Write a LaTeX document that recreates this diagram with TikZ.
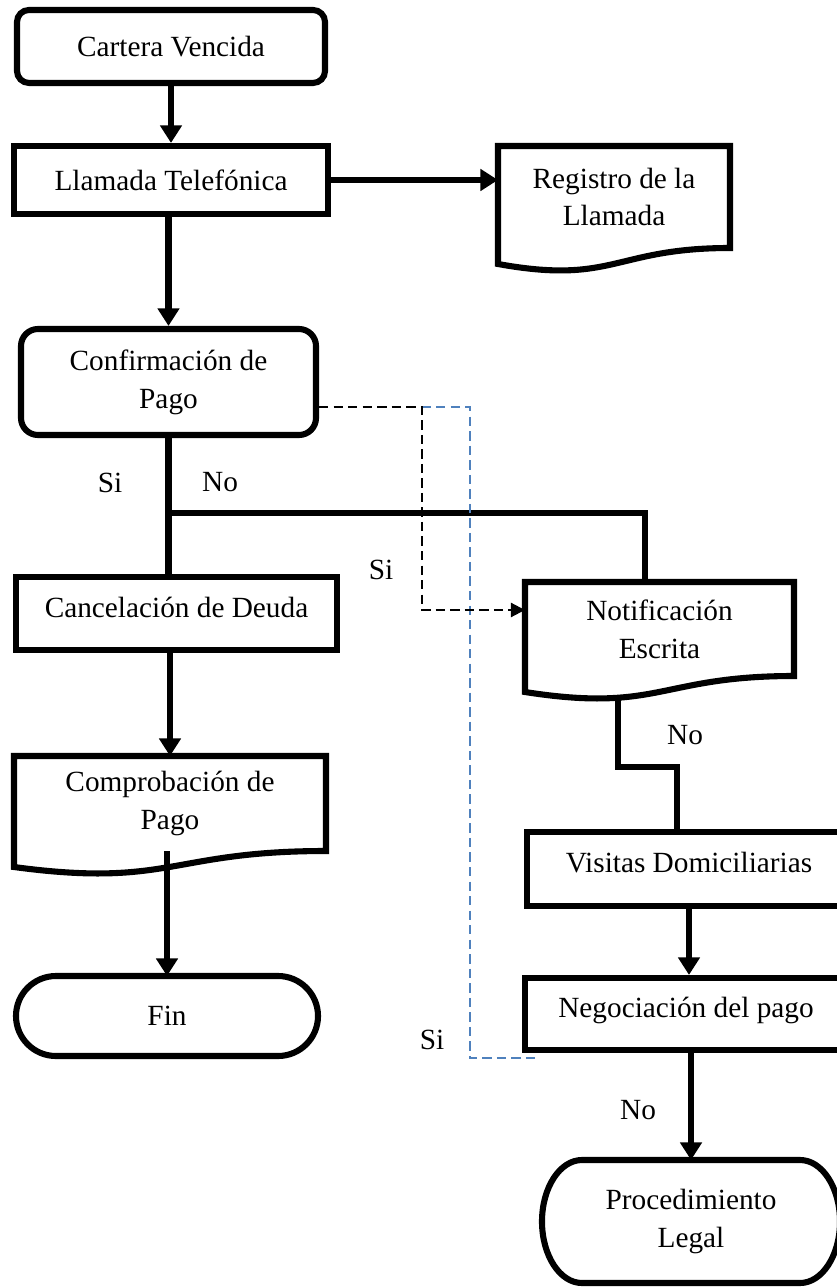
\documentclass[tikz,border=0pt]{standalone}
\usepackage{fontspec}
\setmainfont{Liberation Serif}
\usetikzlibrary{arrows.meta}

% document symbol: box with wavy bottom
\newcommand{\docwave}[1]{%
  \draw[line width=2.6pt] (#1.north west) -- (#1.north east) -- (#1.south east)
    .. controls (#1.south) and ([yshift=-0.555cm]#1.south) .. ([yshift=-0.24cm]#1.south west) -- cycle;}
% terminal symbol: box with elliptic ends
\newcommand{\termpath}[3]{%
  \draw[line width=2.6pt] ([xshift=#2]#1.north west) -- ([xshift=-#2]#1.north east)
    arc[start angle=90, end angle=0, x radius=#2, y radius=#3]
    -- ([yshift=#3]#1.south east)
    arc[start angle=0, end angle=-90, x radius=#2, y radius=#3]
    -- ([xshift=#2]#1.south west)
    arc[start angle=270, end angle=180, x radius=#2, y radius=#3]
    -- ([yshift=-#3]#1.north west)
    arc[start angle=180, end angle=90, x radius=#2, y radius=#3] -- cycle;}

\begin{document}
\begin{tikzpicture}[x=0.015cm, y=-0.015cm,
    font=\fontsize{12.5}{16.2}\selectfont,
    box/.style={draw, line width=2.6pt, align=center, inner sep=2pt},
    highbox/.style={box, text depth=0.2cm},
    roundbox/.style={box, rounded corners=0.18cm},
    docbox/.style={align=center, inner sep=0pt, outer sep=0pt},
    termbox/.style={align=center, inner sep=0pt, outer sep=0pt},
    line/.style={line width=2.6pt},
    arrow/.style={line, -{Triangle[width=9pt, length=7.5pt]}},
    dashline/.style={line width=0.9pt, dash pattern=on 4pt off 2.2pt},
    bluedash/.style={dashline, draw={rgb,255:red,79;green,129;blue,189}}]
  \useasboundingbox (0,0) rectangle (837,1287);

  \node[roundbox, minimum width=4.62cm, minimum height=1.095cm] (1) at (171,46.5) {Cartera Vencida};
  \node[box, minimum width=4.71cm, minimum height=1.02cm] (2) at (171,180) {Llamada Telefónica};
  \node[docbox, minimum width=3.48cm, minimum height=1.53cm] (3) at (614,197) {Registro de la\\Llamada};
  \node[roundbox, rounded corners=0.255cm, minimum width=4.425cm, minimum height=1.59cm] (4) at (168.5,382) {Confirmación de\\Pago};
  \node[highbox, minimum width=4.815cm, minimum height=1.095cm] (5) at (176.5,613.5) {Cancelación de Deuda};
  \node[docbox, minimum width=4.68cm, minimum height=1.425cm] (6) at (170,803.5) {Comprobación de\\Pago};
  \node[termbox, minimum width=4.53cm, minimum height=1.2cm] (7) at (167,1016) {Fin};
  \node[docbox, minimum width=4.035cm, minimum height=1.41cm] (8) at (659.5,629) {Notificación\\Escrita};
  \node[highbox, minimum width=4.86cm, minimum height=1.11cm] (9) at (689,869) {Visitas Domiciliarias};
  \node[highbox, minimum width=4.83cm, minimum height=1.08cm] (10) at (686,1014) {Negociación del pago};
  \node[termbox, minimum width=4.47cm, minimum height=1.845cm] (11) at (691,1221.5) {Procedimiento\\Legal};

  \docwave{3}
  \docwave{6}
  \docwave{8}
  \termpath{7}{0.6cm}{0.6cm}
  \termpath{11}{0.6cm}{0.9225cm}

  \node (si1) at (110,483) {Si};
  \node (no1) at (220,482) {No};
  \node (si2) at (381,570) {Si};
  \node (no2) at (685,735) {No};
  \node (si3) at (432,1040) {Si};
  \node (no3) at (638,1110) {No};

  \coordinate (s1) at (168.5,513);
  \coordinate (s2) at (645,513);
  \coordinate (n1) at (618,698);
  \coordinate (n2) at (677,767);
  \coordinate (d1) at (422,407);
  \coordinate (b1) at (407,407);
  \coordinate (b2) at (540,1058);

  \draw[arrow] (1) -- (2);
  \draw[arrow] (2.east) -- (2.east -| 3.west);
  \draw[arrow] (4.north |- 2.south) -- (4.north);
  \draw[line] (4.south) -- (4.south |- 5.north);
  \draw[line] (s1) -- (s2) -- (s2 |- 8.north);
  \draw[arrow] (5.south -| 6.north) -- (6.north);
  \draw[arrow] (7.north |- 6.south) -- (7.north);
  \draw[line] (n1) |- (n2) -- (n2 |- 9.north);
  \draw[arrow] (9.south) -- (9.south |- 10.north);
  \draw[arrow] (10.south -| 11.north) -- (11.north);

  \draw[bluedash] (b1) -| ([xshift=-1.05cm]b2) -- (b2);
  \draw[dashline, -{Triangle[width=6pt, length=6pt]}] (4.east |- d1) -- (d1) |- ([yshift=0.285cm]8.west);
\end{tikzpicture}
\end{document}
